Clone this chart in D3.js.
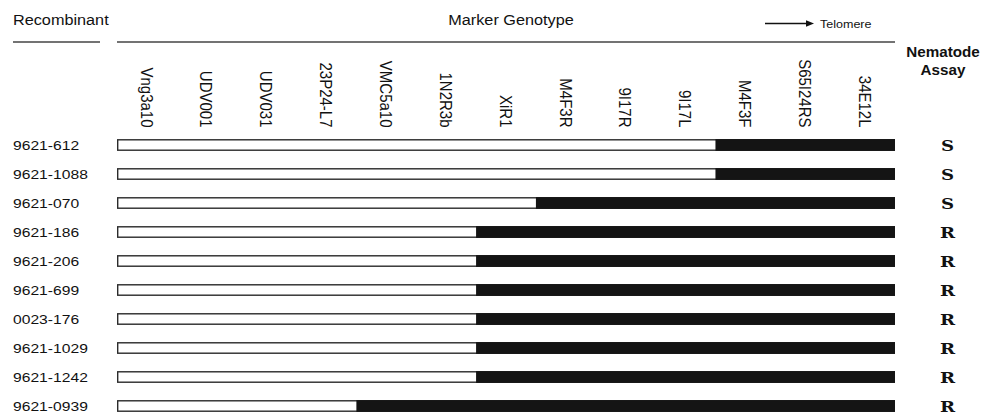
<!DOCTYPE html>
<html><head><meta charset="utf-8">
<script src="https://cdn.jsdelivr.net/npm/d3@7"></script>
<style>body{margin:0;background:#fff}</style></head>
<body>
<svg id="c" width="983" height="418"></svg>
<script>
const markers = ["Vng3a10","UDV001","UDV031","23P24-L7","VMC5a10","1N2R3b","XiR1","M4F3R","9I17R","9I17L","M4F3F","S65I24RS","34E12L"];
const recombinants = ["9621-612","9621-1088","9621-070","9621-186","9621-206","9621-699","0023-176","9621-1029","9621-1242","9621-0939"];
const firstBlackMarker = ["M4F3F","M4F3F","M4F3R","XiR1","XiR1","XiR1","XiR1","XiR1","XiR1","VMC5a10"];
const assay = ["S","S","S","R","R","R","R","R","R","R"];

const SX = 1.16;
const sans = "'Liberation Sans', Arial, Helvetica, sans-serif";
const svg = d3.select("#c");

const x = d3.scaleBand().domain(markers).range([117, 895]).padding(0);
const y = d3.scalePoint().domain(recombinants).range([145, 406]);

function htext(g, tx, ty, str, opts) {
  opts = opts || {};
  return g.append("text")
    .attr("transform", `translate(${tx},${ty}) scale(${opts.sx || SX},1)`)
    .attr("font-family", opts.family || sans)
    .attr("font-size", opts.size || 14)
    .attr("font-weight", opts.weight || "normal")
    .attr("text-anchor", opts.anchor || "start")
    .attr("fill", opts.fill || "#111")
    .text(str);
}

// Header
htext(svg, 13, 25, "Recombinant", {size: 14});
htext(svg, 511, 25, "Marker Genotype", {size: 14, anchor: "middle"});
svg.append("line").attr("x1", 13).attr("x2", 100).attr("y1", 42).attr("y2", 42)
  .attr("stroke", "#444").attr("stroke-width", 1.3);
svg.append("line").attr("x1", x.range()[0]).attr("x2", x.range()[1]).attr("y1", 42).attr("y2", 42)
  .attr("stroke", "#444").attr("stroke-width", 1.3);

// Arrow to telomere
svg.append("line").attr("x1", 765).attr("x2", 808).attr("y1", 23.5).attr("y2", 23.5)
  .attr("stroke", "#111").attr("stroke-width", 1.3);
svg.append("path").attr("d", "M806,20.3 L814,23.5 L806,26.7 Z").attr("fill", "#111");
htext(svg, 820, 28, "Telomere", {size: 10.8});

// Nematode assay header
htext(svg, 943, 57, "Nematode", {size: 14.5, weight: "bold", anchor: "middle", sx: 1.05});
htext(svg, 943, 75, "Assay", {size: 14.5, weight: "bold", anchor: "middle", sx: 1.05});

// Marker labels (rotated)
svg.append("g").selectAll("text").data(markers).join("text")
  .attr("transform", d => `translate(${x(d) + x.bandwidth() / 2},127.5) scale(${SX},1) rotate(90)`)
  .attr("dy", "0.36em")
  .attr("text-anchor", "end")
  .attr("font-family", sans)
  .attr("font-size", 15)
  .attr("fill", "#111")
  .text(d => d);

// Rows
const rows = recombinants.map((r, i) => ({name: r, black: firstBlackMarker[i], assay: assay[i]}));
const g = svg.append("g");
rows.forEach(r => {
  const cy = y(r.name);
  htext(g, 13, cy + 5, r.name, {size: 13.5});
  g.append("rect")
    .attr("x", x.range()[0] + 0.7).attr("y", cy - 5.2)
    .attr("width", x.range()[1] - x.range()[0] - 1.4).attr("height", 10.4)
    .attr("fill", "#fff").attr("stroke", "#2b2b2b").attr("stroke-width", 1.4);
  g.append("rect")
    .attr("x", x(r.black)).attr("y", cy - 5.9)
    .attr("width", x.range()[1] - x(r.black)).attr("height", 11.8)
    .attr("fill", "#141414");
  htext(g, 947.5, cy + 5.5, r.assay, {size: 14.5, weight: "bold", anchor: "middle",
    family: "'DejaVu Serif', 'Liberation Serif', serif", sx: 1.25});
});
</script>
</body></html>
